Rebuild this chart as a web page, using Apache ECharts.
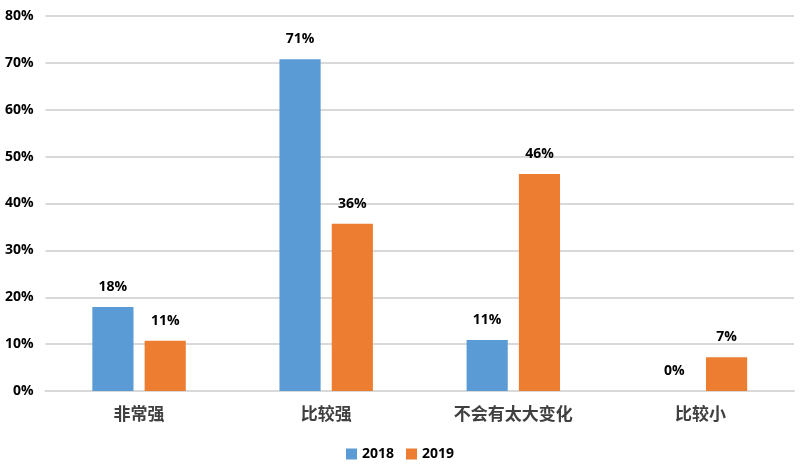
<!DOCTYPE html>
<html><head><meta charset="utf-8">
<script src="https://cdn.jsdelivr.net/npm/echarts@6/dist/echarts.min.js"></script>
<style>html,body{margin:0;padding:0;background:#fff}#c{width:800px;height:467px}</style>
</head><body><div id="c"></div>
<script>
const categories = ['非常强', '比较强', '不会有太大变化', '比较小'];
const seriesNames = ['2018', '2019'];
const values2018 = [17.9, 70.8, 10.9, 0];
const values2019 = [10.7, 35.7, 46.3, 7.2];
const yTicks = [0, 10, 20, 30, 40, 50, 60, 70, 80];

const chart = echarts.init(document.getElementById('c'));
const labelStyle = {
  show: true, position: 'top', distance: 13,
  fontFamily: 'Open Sans', fontWeight: 'bold', fontSize: 14, color: '#000',
  formatter: p => Math.round(p.value) + '%'
};
chart.setOption({
  animation: false,
  color: ['#5b9bd5', '#ed7d31'],
  grid: { left: 45.5, right: 6, top: 16, bottom: 76 },
  legend: {
    bottom: 1, left: 'center', itemWidth: 11, itemHeight: 11, itemGap: 12,
    icon: 'rect',
    textStyle: { fontFamily: 'Open Sans', fontWeight: 'bold', fontSize: 14, color: '#000' },
    data: seriesNames
  },
  xAxis: {
    type: 'category', data: categories,
    axisLine: { lineStyle: { color: '#d9d9d9', width: 2 } },
    axisTick: { show: false },
    axisLabel: { margin: 14, fontFamily: 'Noto Sans CJK SC', fontWeight: 'bold', fontSize: 17, color: '#404040' }
  },
  yAxis: {
    type: 'value', min: yTicks[0], max: yTicks[yTicks.length - 1], interval: 10,
    axisLine: { show: false }, axisTick: { show: false },
    splitLine: { lineStyle: { color: '#d9d9d9', width: 2 } },
    axisLabel: { margin: 12, fontFamily: 'Open Sans', fontWeight: 'bold', fontSize: 14, color: '#000', formatter: v => v + '%' }
  },
  series: [
    { name: seriesNames[0], type: 'bar', data: values2018, barWidth: '22%', barGap: '27%', label: labelStyle },
    { name: seriesNames[1], type: 'bar', data: values2019, barWidth: '22%', barGap: '27%', label: labelStyle }
  ]
});
</script></body></html>
